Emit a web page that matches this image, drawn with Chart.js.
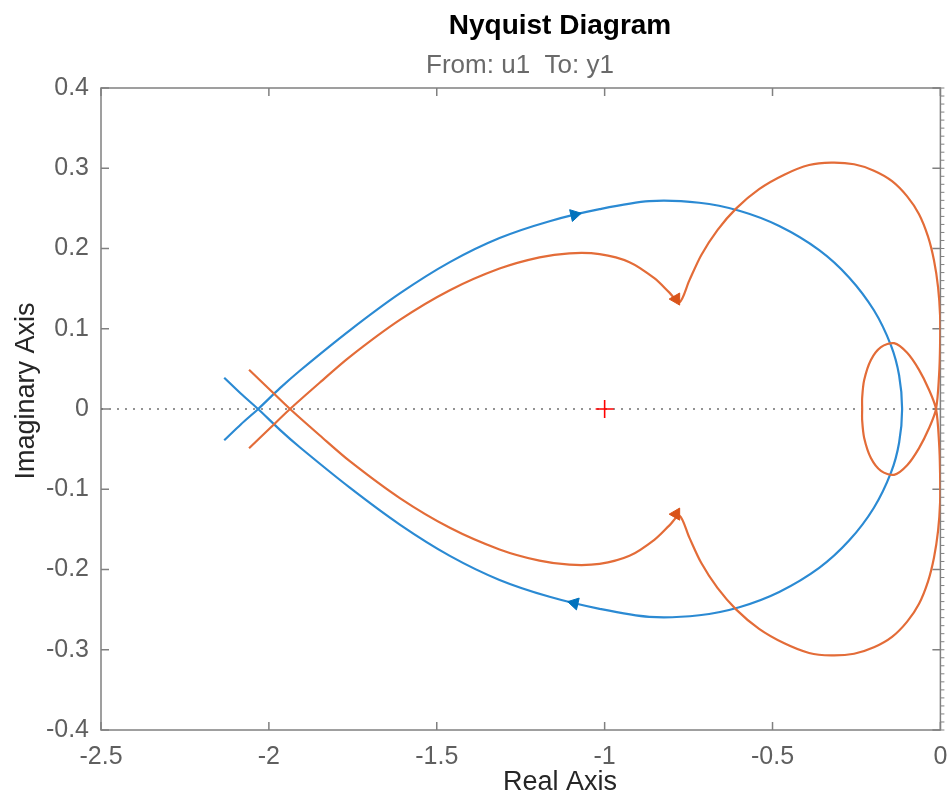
<!DOCTYPE html>
<html>
<head>
<meta charset="utf-8">
<script src="https://cdn.jsdelivr.net/npm/chart.js@4.4.1/dist/chart.umd.min.js"></script>
<style>
  html, body { margin: 0; padding: 0; background: #fff; }
  #wrap { width: 951px; height: 798px; }
</style>
</head>
<body>
<div id="wrap"><canvas id="nyq" width="951" height="798"></canvas></div>
<script>
// tick values and labels
const realTicks = [-2.5, -2, -1.5, -1, -0.5, 0];
const realTickLabels = ['-2.5', '-2', '-1.5', '-1', '-0.5', '0'];
const imagTicks = [-0.4, -0.3, -0.2, -0.1, 0, 0.1, 0.2, 0.3, 0.4];
const imagTickLabels = ['-0.4', '-0.3', '-0.2', '-0.1', '0', '0.1', '0.2', '0.3', '0.4'];

// blue response (upper half, then lower half)
const blueUpperX = [-2.133, -2.083, -2.032, -1.967, -1.907, -1.759, -1.610, -1.461, -1.313, -1.164, -1.015, -0.867, -0.718, -0.599, -0.480, -0.361, -0.272, -0.198, -0.147, -0.123, -0.114];
const blueUpperY = [-0.039, -0.019, 0.000, 0.026, 0.048, 0.098, 0.144, 0.183, 0.213, 0.234, 0.249, 0.259, 0.257, 0.247, 0.228, 0.198, 0.164, 0.123, 0.079, 0.042, 0.000];
const blueLowerX = [-0.114, -0.123, -0.147, -0.198, -0.272, -0.361, -0.480, -0.599, -0.718, -0.867, -1.015, -1.164, -1.313, -1.461, -1.610, -1.759, -1.907, -1.967, -2.032, -2.083, -2.133];
const blueLowerY = [0.000, -0.042, -0.079, -0.123, -0.164, -0.198, -0.228, -0.247, -0.257, -0.259, -0.249, -0.234, -0.213, -0.183, -0.144, -0.098, -0.048, -0.026, 0.000, 0.019, 0.039];

// orange response
const orangeUpperX = [-2.059, -1.997, -1.937, -1.848, -1.759, -1.610, -1.461, -1.313, -1.194, -1.105, -1.015, -0.926, -0.852, -0.807, -0.777, -0.748, -0.712, -0.664, -0.608, -0.540, -0.465, -0.391, -0.325, -0.257, -0.198, -0.144, -0.099, -0.064, -0.037, -0.019, -0.007, -0.001, -0.001, -0.004, -0.013, -0.034, -0.064, -0.099, -0.138, -0.177, -0.207, -0.227, -0.233, -0.233];
const orangeUpperY = [-0.049, -0.024, 0.000, 0.033, 0.065, 0.111, 0.148, 0.175, 0.189, 0.194, 0.193, 0.183, 0.163, 0.145, 0.133, 0.160, 0.192, 0.223, 0.250, 0.274, 0.292, 0.304, 0.307, 0.305, 0.297, 0.284, 0.265, 0.243, 0.215, 0.185, 0.152, 0.117, 0.079, 0.042, 0.000, -0.024, -0.049, -0.070, -0.082, -0.077, -0.061, -0.036, -0.014, 0.000];
const orangeLowerX = [-0.233, -0.233, -0.227, -0.207, -0.177, -0.138, -0.099, -0.064, -0.034, -0.013, -0.004, -0.001, -0.001, -0.007, -0.019, -0.037, -0.064, -0.099, -0.144, -0.198, -0.257, -0.325, -0.391, -0.465, -0.540, -0.608, -0.664, -0.712, -0.748, -0.777, -0.807, -0.852, -0.926, -1.015, -1.105, -1.194, -1.313, -1.461, -1.610, -1.759, -1.848, -1.937, -1.997, -2.059];
const orangeLowerY = [0.000, 0.014, 0.036, 0.061, 0.077, 0.082, 0.070, 0.049, 0.024, 0.000, -0.042, -0.079, -0.117, -0.152, -0.185, -0.215, -0.243, -0.265, -0.284, -0.297, -0.305, -0.307, -0.304, -0.292, -0.274, -0.250, -0.223, -0.192, -0.160, -0.133, -0.145, -0.163, -0.183, -0.193, -0.194, -0.189, -0.175, -0.148, -0.111, -0.065, -0.033, 0.000, 0.024, 0.049];

// direction arrows
const blueArrowX = [-1.090, -1.090];
const blueArrowY = [0.242, -0.242];
const blueArrowRot = [77, 283];
const orangeArrowX = [-0.787, -0.787];
const orangeArrowY = [0.137, -0.131];
const orangeArrowRot = [150, 30];

// critical point
const critX = [-1];
const critY = [0];

const pts = (xs, ys) => xs.map((x, i) => ({ x: x, y: ys[i] }));

const FONT = '"Liberation Sans", Arial, sans-serif';
const boxColor = '#808080';
const tickColor = '#5f5f5f';
const blue = '#2b8ad3';
const orange = '#e36c38';

const frame = {
  id: 'frame',
  beforeDatasetsDraw(chart) {
    const { ctx, chartArea: a, scales } = chart;
    const x = scales.x, y = scales.y;
    ctx.save();
    ctx.strokeStyle = boxColor;
    ctx.lineWidth = 1.5;
    ctx.strokeRect(a.left, a.top, a.right - a.left, a.bottom - a.top);
    ctx.beginPath();
    realTicks.forEach(v => {
      const px = x.getPixelForValue(v);
      ctx.moveTo(px, a.bottom); ctx.lineTo(px, a.bottom - 8);
      ctx.moveTo(px, a.top); ctx.lineTo(px, a.top + 8);
    });
    imagTicks.forEach(v => {
      const py = y.getPixelForValue(v);
      ctx.moveTo(a.left, py); ctx.lineTo(a.left + 8, py);
      ctx.moveTo(a.right, py); ctx.lineTo(a.right - 8, py);
    });
    ctx.stroke();
    // small marks on the right edge
    ctx.lineWidth = 1;
    ctx.beginPath();
    for (let k = -40; k <= 40; k++) {
      const py = y.getPixelForValue(k / 100);
      ctx.moveTo(a.right, py); ctx.lineTo(a.right + 4, py);
    }
    ctx.stroke();
    ctx.restore();
  },
  afterDraw(chart) {
    const ctx = chart.ctx;
    ctx.save();
    ctx.textAlign = 'center';
    ctx.textBaseline = 'alphabetic';
    ctx.fillStyle = '#000';
    ctx.font = 'bold 28px ' + FONT;
    ctx.fillText('Nyquist Diagram', 560, 34);
    ctx.fillStyle = '#6a6a6a';
    ctx.font = '26px ' + FONT;
    ctx.fillText('From: u1  To: y1', 520, 73);
    ctx.fillStyle = '#262626';
    ctx.font = '27px ' + FONT;
    ctx.fillText('Real Axis', 560, 790);
    ctx.translate(34, 391);
    ctx.rotate(-Math.PI / 2);
    ctx.fillText('Imaginary Axis', 0, 0);
    ctx.restore();
  }
};

new Chart(document.getElementById('nyq'), {
  type: 'scatter',
  data: {
    datasets: [
      {
        data: [{ x: -2.5, y: 0 }, { x: 0, y: 0 }],
        showLine: true, borderColor: '#707070', borderWidth: 1.5, borderDash: [2, 6],
        pointRadius: 0, order: 10
      },
      {
        data: pts(blueUpperX, blueUpperY).concat(pts(blueLowerX, blueLowerY).slice(1)),
        showLine: true, borderColor: blue, borderWidth: 2.2, tension: 0.3,
        pointRadius: 0, order: 4
      },
      {
        data: pts(orangeUpperX, orangeUpperY).concat(pts(orangeLowerX, orangeLowerY).slice(1)),
        showLine: true, borderColor: orange, borderWidth: 2.2, tension: 0.3,
        pointRadius: 0, order: 3
      },
      {
        data: pts(blueArrowX, blueArrowY),
        pointStyle: 'triangle', pointRadius: 7, pointRotation: blueArrowRot,
        backgroundColor: '#0072bd', borderColor: '#0072bd', borderWidth: 1, order: 2
      },
      {
        data: pts(orangeArrowX, orangeArrowY),
        pointStyle: 'triangle', pointRadius: 7, pointRotation: orangeArrowRot,
        backgroundColor: '#d95319', borderColor: '#d95319', borderWidth: 1, order: 2
      },
      {
        data: pts(critX, critY),
        pointStyle: 'cross', pointRadius: 9, borderColor: '#ff0000', borderWidth: 1.6, order: 1
      }
    ]
  },
  options: {
    responsive: false,
    animation: false,
    devicePixelRatio: 1,
    layout: { padding: { top: 88, right: 9.5, left: 0, bottom: 0 } },
    plugins: { legend: { display: false }, tooltip: { enabled: false }, title: { display: false } },
    scales: {
      x: {
        type: 'linear', min: -2.5, max: 0,
        afterBuildTicks: s => { s.ticks = realTicks.map(v => ({ value: v })); },
        afterFit: s => { s.height = 68; s.paddingLeft = 0; s.paddingRight = 0; },
        ticks: {
          callback: (v, i) => realTickLabels[i],
          color: tickColor, font: { size: 25, family: FONT }, padding: 12,
          maxRotation: 0, autoSkip: false
        },
        grid: { display: false, drawTicks: false },
        border: { display: false }
      },
      y: {
        type: 'linear', min: -0.4, max: 0.4,
        afterBuildTicks: s => { s.ticks = imagTicks.map(v => ({ value: v })); },
        afterFit: s => { s.width = 101; s.paddingTop = 0; s.paddingBottom = 0; },
        ticks: {
          callback: (v, i) => imagTickLabels[i],
          color: tickColor, font: { size: 25, family: FONT }, padding: 12,
          autoSkip: false
        },
        grid: { display: false, drawTicks: false },
        border: { display: false }
      }
    }
  },
  plugins: [frame]
});
</script>
</body>
</html>
